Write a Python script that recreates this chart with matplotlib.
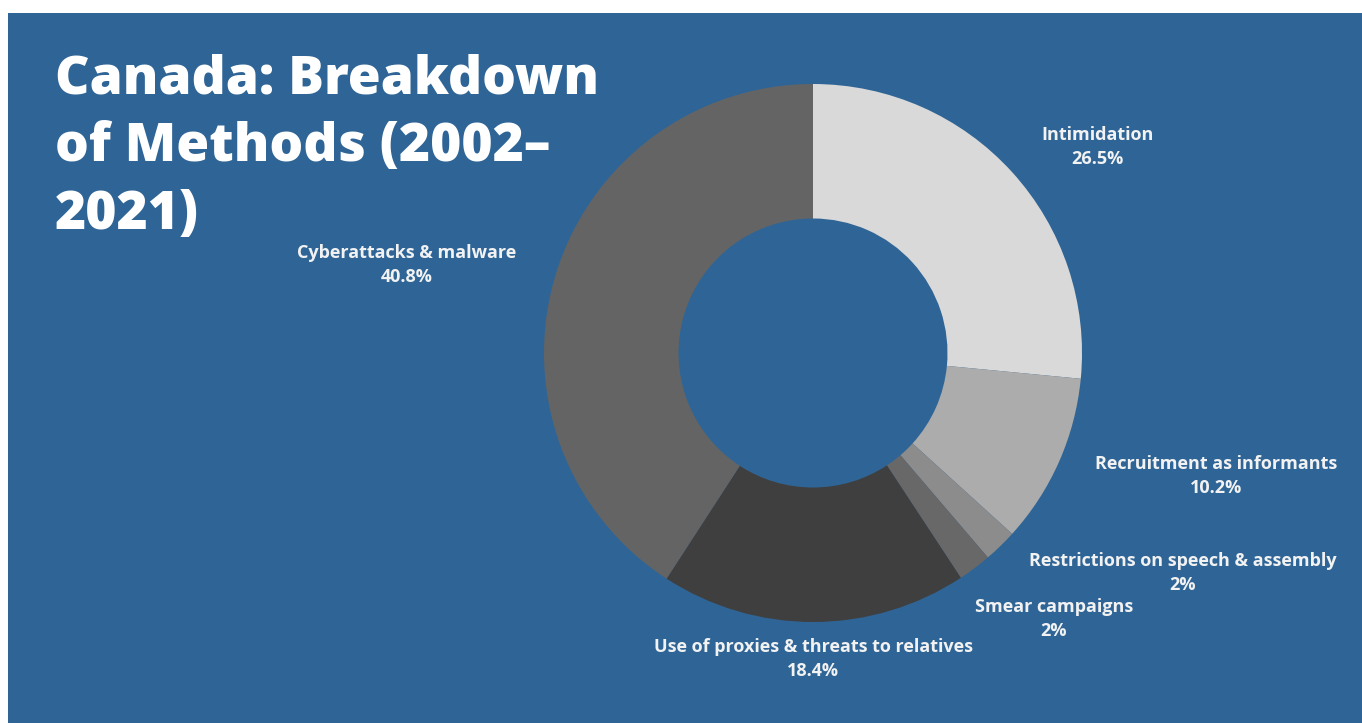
import matplotlib.pyplot as plt
from matplotlib.patches import Rectangle

# --- data ---
methods = ["Intimidation", "Recruitment as informants", "Restrictions on speech & assembly",
           "Smear campaigns", "Use of proxies & threats to relatives", "Cyberattacks & malware"]
shares = [26.5, 10.2, 2.0, 2.0, 18.4, 40.8]
share_labels = ["26.5%", "10.2%", "2%", "2%", "18.4%", "40.8%"]

colors = ["#d9d9d9", "#acacac", "#8c8c8c", "#686868", "#3f3f3f", "#646464"]
# label anchor positions (in units of the outer radius)
label_pos = [(1.056, 0.766), (1.498, -0.457), (1.375, -0.818),
             (0.896, -0.989), (0.0, -1.138), (-1.509, 0.327)]

W, H = 1362, 723
fig = plt.figure(figsize=(W / 100, H / 100), dpi=100, facecolor="white")

# blue panel (white strip at top and left)
fig.patches.append(Rectangle((8 / W, 0), 1 - 8 / W, (H - 13) / H, transform=fig.transFigure,
                             facecolor="#2f6596", edgecolor="none", zorder=-10))

cx, cy, r = 813, H - 353, 269
half = r * 1.04
ax = fig.add_axes([(cx - half) / W, (cy - half) / H, 2 * half / W, 2 * half / H])
ax.set_zorder(5)
ax.set_facecolor("none")
ax.pie(shares, colors=colors, startangle=90, counterclock=False,
       wedgeprops=dict(width=0.5, edgecolor="none"))
ax.set_xlim(-1.04, 1.04)
ax.set_ylim(-1.04, 1.04)
ax.set_aspect("equal")
ax.axis("off")

for name, lab, (x, y) in zip(methods, share_labels, label_pos):
    ax.text(x, y, f"{name}\n{lab}", ha="center", va="center", color="#f2f2f2",
            fontsize=13, fontweight="bold", family="Open Sans",
            linespacing=1.38, clip_on=False)

fig.text(55 / W, 1 - 54 / H, "Canada: Breakdown\nof Methods (2002–\n2021)", ha="left", va="top",
         color="white", fontsize=38.3, fontweight=800, family="Open Sans", linespacing=1.36)

fig.savefig("out.png", dpi=100, facecolor=fig.get_facecolor())
